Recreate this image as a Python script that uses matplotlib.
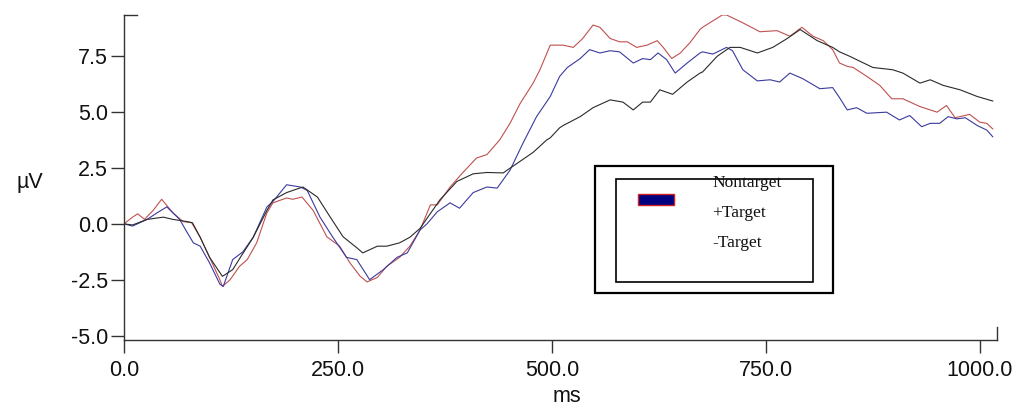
import matplotlib
matplotlib.use("Agg")
import matplotlib.pyplot as plt
from matplotlib.patches import Rectangle
from matplotlib.lines import Line2D

# ERP waveforms, values (ms, uV)
red_ms = [0, 10, 16, 24, 34, 44, 57, 69, 79, 89, 100, 112, 115, 124, 135, 144, 155, 167, 174,
          190, 197, 208, 221, 237, 252, 264, 276, 284, 296, 307, 322, 334, 346, 358, 366, 381,
          396, 412, 424, 439, 451, 463, 478, 486, 498, 513, 525, 536, 548, 556, 568, 579, 588,
          599, 611, 623, 630, 640, 650, 661, 673, 676, 699, 704, 723, 743, 763, 778, 792, 805,
          817, 828, 836, 845, 852, 868, 883, 897, 910, 930, 950, 961, 971, 988, 1000, 1008, 1015]
red_uv = [0.0, 0.3, 0.45, 0.2, 0.6, 1.1, 0.5, 0.1, 0.05, -0.6, -1.5, -2.5, -2.8, -2.5, -1.9,
          -1.6, -0.85, 0.5, 0.94, 1.16, 1.1, 1.2, 0.6, -0.58, -1.0, -1.75, -2.35, -2.6, -2.4,
          -1.9, -1.5, -1.0, -0.27, 0.85, 0.85, 1.65, 2.3, 2.95, 3.1, 3.76, 4.5, 5.4, 6.3, 6.9,
          8.0, 8.0, 7.9, 8.3, 8.9, 8.8, 8.3, 8.15, 8.15, 7.9, 8.0, 8.2, 7.9, 7.4, 7.65, 8.1,
          8.7, 8.8, 9.35, 9.35, 9.0, 8.6, 8.65, 8.4, 8.8, 8.4, 8.2, 7.8, 7.2, 7.05, 7.0, 6.6,
          6.2, 5.6, 5.6, 5.25, 5.0, 5.3, 4.75, 4.9, 4.55, 4.5, 4.25]

blue_ms = [0, 10, 27, 39, 50, 65, 74, 81, 89, 100, 112, 116, 127, 139, 151, 167, 174, 190, 206,
           214, 229, 244, 260, 272, 287, 303, 319, 331, 346, 354, 366, 381, 392, 408, 424, 436,
           451, 466, 482, 498, 509, 518, 533, 544, 556, 568, 579, 595, 606, 615, 624, 634, 644,
           658, 673, 676, 688, 704, 711, 723, 740, 755, 766, 778, 793, 813, 828, 836, 845, 856,
           868, 891, 906, 918, 932, 942, 953, 963, 973, 983, 997, 1008, 1015]
blue_uv = [0.0, -0.1, 0.2, 0.5, 0.76, 0.2, -0.4, -0.85, -1.0, -1.75, -2.7, -2.8, -1.6, -1.25,
           -0.6, 0.76, 1.0, 1.75, 1.65, 1.5, 0.3, -0.6, -1.5, -1.6, -2.5, -2.05, -1.5, -1.3,
           -0.27, 0.0, 0.54, 0.94, 0.7, 1.4, 1.65, 1.6, 2.4, 3.6, 4.8, 5.7, 6.6, 7.0, 7.4, 7.8,
           7.65, 7.75, 7.7, 7.2, 7.4, 7.35, 7.65, 7.35, 6.75, 7.2, 7.65, 7.7, 7.6, 7.9, 7.75,
           6.9, 6.4, 6.45, 6.35, 6.75, 6.5, 6.05, 6.1, 5.65, 5.1, 5.2, 4.95, 5.0, 4.65, 4.85,
           4.35, 4.5, 4.5, 4.8, 4.7, 4.75, 4.4, 4.2, 3.9]

black_ms = [0, 10, 27, 46, 57, 74, 80, 89, 100, 115, 127, 136, 151, 167, 174, 190, 209, 226,
            241, 256, 272, 279, 296, 307, 322, 334, 346, 369, 389, 408, 424, 443, 459, 478, 494,
            498, 509, 513, 533, 548, 568, 583, 595, 606, 615, 626, 641, 658, 673, 676, 693, 708,
            720, 740, 758, 775, 790, 810, 828, 836, 848, 856, 875, 898, 910, 930, 942, 957, 977,
            997, 1015]
black_uv = [0.0, -0.05, 0.2, 0.3, 0.2, 0.1, 0.05, -0.6, -1.5, -2.35, -2.05, -1.5, -0.6, 0.6,
            1.07, 1.4, 1.65, 1.2, 0.3, -0.58, -1.07, -1.3, -1.0, -1.0, -0.85, -0.6, -0.2, 1.07,
            1.9, 2.24, 2.3, 2.28, 2.7, 3.2, 3.76, 3.85, 4.3, 4.4, 4.8, 5.2, 5.55, 5.45, 5.1,
            5.45, 5.45, 6.0, 5.8, 6.35, 6.75, 6.8, 7.5, 7.9, 7.9, 7.65, 7.9, 8.3, 8.7, 8.2, 7.9,
            7.7, 7.5, 7.35, 7.0, 6.9, 6.75, 6.3, 6.45, 6.2, 6.0, 5.7, 5.5]

legend_labels = ["Nontarget", "+Target", "-Target"]
x_ticks = [0, 250, 500, 750, 1000]
y_ticks = [-5.0, -2.5, 0.0, 2.5, 5.0, 7.5]

W, H = 1020, 411
fig = plt.figure(figsize=(W / 100, H / 100), dpi=100)
plt.rcParams['font.family'] = ['Liberation Sans', 'DejaVu Sans']

# axes box in pixels: left 124, right 997, top 15, bottom 340
ax = fig.add_axes([124 / W, (H - 340) / H, 873 / W, 325 / H])
ax.plot(red_ms, red_uv, color="#c05050", lw=0.8)
ax.plot(blue_ms, blue_uv, color="#3a3aa0", lw=0.8)
ax.plot(black_ms, black_uv, color="#2a2a2a", lw=0.8)

ax.set_xlim(0, 1020)
ax.set_ylim(-5.2, 9.35)
ax.set_xticks(x_ticks)
ax.set_xticklabels([f"{v:.1f}" for v in x_ticks])
ax.set_yticks(y_ticks)
ax.set_yticklabels([f"{v:.1f}" for v in y_ticks])
for s in ["top", "right"]:
    ax.spines[s].set_visible(False)
for s in ["left", "bottom"]:
    ax.spines[s].set_color("#333333")
    ax.spines[s].set_linewidth(1.0)
ax.tick_params(axis="both", direction="out", length=9.5, width=1.0, color="#333333",
               labelsize=15.5, labelcolor="#111111")
ax.tick_params(axis="x", pad=5)
ax.tick_params(axis="y", pad=2)

# end caps on the axis lines
ax.add_line(Line2D([0, 0.015], [1, 1], transform=ax.transAxes, color="#333333", lw=1.0, clip_on=False))
ax.add_line(Line2D([1, 1], [0, 0.04], transform=ax.transAxes, color="#333333", lw=1.0, clip_on=False))

fig.text(30 / W, (H - 182) / H, "µV", fontsize=15.5, ha="center", va="center", color="#111111")
fig.text(567 / W, (H - 396) / H, "ms", fontsize=15.5, ha="center", va="center", color="#111111")

# legend boxes
fig.patches.append(Rectangle((595 / W, (H - 293) / H), 238 / W, 127 / H, transform=fig.transFigure,
                             fill=False, edgecolor="black", lw=1.6))
fig.patches.append(Rectangle((616 / W, (H - 282) / H), 197 / W, 103 / H, transform=fig.transFigure,
                             fill=False, edgecolor="black", lw=1.2))
fig.patches.append(Rectangle((638 / W, (H - 205) / H), 36 / W, 11 / H, transform=fig.transFigure,
                             facecolor="#000080", edgecolor="#d02020", lw=1.0))
for i, lab in enumerate(legend_labels):
    fig.text(712 / W, (H - (183 + 30 * i)) / H, lab, fontsize=12.5, ha="left", va="center",
             family=["Liberation Serif", "DejaVu Serif"], color="#111111")

fig.savefig("out.png", dpi=100)
